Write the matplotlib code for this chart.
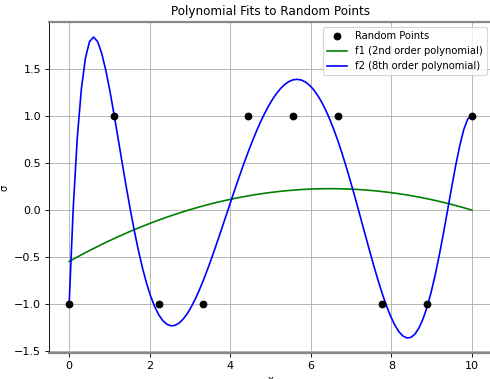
import matplotlib
matplotlib.use('Agg')
import matplotlib.pyplot as plt
import numpy as np

# random points
x_pts = np.linspace(0, 10, 10)
y_pts = [-1, 1, -1, -1, 1, 1, 1, -1, -1, 1]

# polynomial fits to those points
xs = np.linspace(0, 10, 100)
f1 = np.polyval(np.polyfit(x_pts, y_pts, 2), xs)
f2 = np.polyval(np.polyfit(x_pts, y_pts, 8), xs)

dpi = 80
fig = plt.figure(figsize=(490 / dpi, 379 / dpi), dpi=dpi)
ax = fig.add_axes([49 / 490, (379 - 353) / 379, (492 - 49) / 490, (353 - 22) / 379])

ax.scatter(x_pts, y_pts, color='k', label='Random Points', zorder=3)
ax.plot(xs, f1, color='green', label='f1 (2nd order polynomial)')
ax.plot(xs, f2, color='blue', label='f2 (8th order polynomial)')

ax.set_title('Polynomial Fits to Random Points', fontsize=10.8)
ax.set_xlabel('x', fontsize=9)
ax.set_ylabel('σ', fontsize=9)
ax.grid(True)
ax.legend(loc='upper right', fontsize=9)

for side in ['top', 'bottom']:
    ax.spines[side].set_color('#888888')
    ax.spines[side].set_linewidth(2)

fig.savefig('out.png', dpi=dpi)
